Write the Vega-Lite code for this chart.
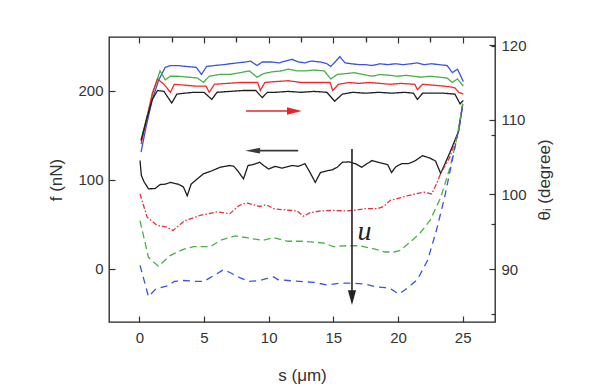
{
"$schema":"https://vega.github.io/schema/vega-lite/v6.json",
"width":386,"height":285,"autosize":"none",
"padding":{"left":109,"top":37,"right":114,"bottom":66},
"background":"white",
"config":{"view":{"stroke":"#222","strokeWidth":1.3},
"axis":{"domain":false,"grid":false,"labelFont":"Liberation Sans","labelFontSize":15,"labelColor":"#333","titleFont":"Liberation Sans","titleFontSize":17,"titleFontWeight":"normal","titleColor":"#333","tickColor":"#333","tickWidth":1.2}},
"datasets":{
"one":[{"s":0,"f":0}],
"arrows":[{"a":"red","s":8.25,"s2":11.7,"f":177,"f2":177},{"a":"black","s":8.9,"s2":12.28,"f":132.6,"f2":132.6},{"a":"u","s":16.44,"s2":16.44,"f":134.5,"f2":-30}],
"heads":[{"a":"red","s":11.99,"f":177},{"a":"black","s":8.76,"f":132.6},{"a":"u","s":16.44,"f":-32.2}],
"labels":[{"t":"u","s":17.4,"f":41.5}],
"lines":[
{"series":"blue_f","s":0.13,"f":131},{"series":"blue_f","s":0.5,"f":158},{"series":"blue_f","s":1.0,"f":190},{"series":"blue_f","s":1.5,"f":212},{"series":"blue_f","s":2.0,"f":226},{"series":"blue_f","s":2.4,"f":228},{"series":"blue_f","s":3.0,"f":228},{"series":"blue_f","s":3.6,"f":227},{"series":"blue_f","s":4.4,"f":226},{"series":"blue_f","s":4.8,"f":218},{"series":"blue_f","s":5.2,"f":227},{"series":"blue_f","s":5.8,"f":228},{"series":"blue_f","s":6.5,"f":229},{"series":"blue_f","s":7.0,"f":230},{"series":"blue_f","s":7.6,"f":231},{"series":"blue_f","s":8.2,"f":232},{"series":"blue_f","s":8.6,"f":233},{"series":"blue_f","s":9.1,"f":228},{"series":"blue_f","s":9.5,"f":232},{"series":"blue_f","s":10.2,"f":232},{"series":"blue_f","s":10.8,"f":231},{"series":"blue_f","s":11.3,"f":233},{"series":"blue_f","s":11.8,"f":235},{"series":"blue_f","s":12.3,"f":232},{"series":"blue_f","s":12.8,"f":231},{"series":"blue_f","s":13.3,"f":233},{"series":"blue_f","s":14.0,"f":232},{"series":"blue_f","s":14.5,"f":230},{"series":"blue_f","s":14.8,"f":227},{"series":"blue_f","s":15.2,"f":233},{"series":"blue_f","s":15.5,"f":238},{"series":"blue_f","s":15.9,"f":231},{"series":"blue_f","s":16.4,"f":230},{"series":"blue_f","s":17.0,"f":229},{"series":"blue_f","s":17.5,"f":229},{"series":"blue_f","s":18.0,"f":228},{"series":"blue_f","s":18.6,"f":230},{"series":"blue_f","s":19.2,"f":229},{"series":"blue_f","s":19.8,"f":230},{"series":"blue_f","s":20.4,"f":229},{"series":"blue_f","s":21.0,"f":230},{"series":"blue_f","s":21.5,"f":231},{"series":"blue_f","s":22.0,"f":229},{"series":"blue_f","s":22.6,"f":230},{"series":"blue_f","s":23.2,"f":229},{"series":"blue_f","s":23.8,"f":228},{"series":"blue_f","s":24.2,"f":220},{"series":"blue_f","s":24.6,"f":224},{"series":"blue_f","s":25.05,"f":210},
{"series":"green_f","s":0.13,"f":144},{"series":"green_f","s":0.6,"f":172},{"series":"green_f","s":1.1,"f":200},{"series":"green_f","s":1.6,"f":222},{"series":"green_f","s":2.0,"f":212},{"series":"green_f","s":2.4,"f":216},{"series":"green_f","s":3.0,"f":216},{"series":"green_f","s":3.8,"f":215},{"series":"green_f","s":4.5,"f":214},{"series":"green_f","s":4.95,"f":209},{"series":"green_f","s":5.4,"f":216},{"series":"green_f","s":6.2,"f":218},{"series":"green_f","s":7.0,"f":218},{"series":"green_f","s":7.8,"f":220},{"series":"green_f","s":8.5,"f":222},{"series":"green_f","s":9.1,"f":215},{"series":"green_f","s":9.6,"f":219},{"series":"green_f","s":10.3,"f":221},{"series":"green_f","s":11.0,"f":222},{"series":"green_f","s":11.5,"f":224},{"series":"green_f","s":12.2,"f":222},{"series":"green_f","s":12.8,"f":222},{"series":"green_f","s":13.5,"f":223},{"series":"green_f","s":14.3,"f":222},{"series":"green_f","s":14.8,"f":213},{"series":"green_f","s":15.3,"f":218},{"series":"green_f","s":16.0,"f":219},{"series":"green_f","s":16.6,"f":220},{"series":"green_f","s":17.3,"f":218},{"series":"green_f","s":18.0,"f":216},{"series":"green_f","s":18.6,"f":218},{"series":"green_f","s":19.4,"f":217},{"series":"green_f","s":20.0,"f":216},{"series":"green_f","s":20.6,"f":217},{"series":"green_f","s":21.2,"f":216},{"series":"green_f","s":21.8,"f":215},{"series":"green_f","s":22.5,"f":216},{"series":"green_f","s":23.2,"f":215},{"series":"green_f","s":23.8,"f":214},{"series":"green_f","s":24.2,"f":209},{"series":"green_f","s":24.6,"f":213},{"series":"green_f","s":25.05,"f":205},
{"series":"red_f","s":0.13,"f":140},{"series":"red_f","s":0.6,"f":170},{"series":"red_f","s":1.0,"f":197},{"series":"red_f","s":1.4,"f":213},{"series":"red_f","s":1.9,"f":207},{"series":"red_f","s":2.4,"f":198},{"series":"red_f","s":2.7,"f":207},{"series":"red_f","s":3.5,"f":206},{"series":"red_f","s":4.3,"f":205},{"series":"red_f","s":5.15,"f":205},{"series":"red_f","s":5.4,"f":198},{"series":"red_f","s":5.8,"f":207},{"series":"red_f","s":6.8,"f":208},{"series":"red_f","s":7.8,"f":209},{"series":"red_f","s":8.6,"f":209},{"series":"red_f","s":9.15,"f":209},{"series":"red_f","s":9.35,"f":200},{"series":"red_f","s":9.7,"f":209},{"series":"red_f","s":10.5,"f":210},{"series":"red_f","s":11.5,"f":211},{"series":"red_f","s":12.5,"f":209},{"series":"red_f","s":13.5,"f":209},{"series":"red_f","s":14.75,"f":209},{"series":"red_f","s":14.95,"f":200},{"series":"red_f","s":15.4,"f":207},{"series":"red_f","s":16.2,"f":209},{"series":"red_f","s":17.0,"f":208},{"series":"red_f","s":17.8,"f":209},{"series":"red_f","s":18.6,"f":208},{"series":"red_f","s":19.4,"f":207},{"series":"red_f","s":20.2,"f":208},{"series":"red_f","s":21.3,"f":207},{"series":"red_f","s":21.5,"f":201},{"series":"red_f","s":21.9,"f":207},{"series":"red_f","s":22.7,"f":206},{"series":"red_f","s":23.5,"f":205},{"series":"red_f","s":24.1,"f":204},{"series":"red_f","s":24.4,"f":203},{"series":"red_f","s":24.7,"f":198},{"series":"red_f","s":25.05,"f":196},
{"series":"black_f","s":0.13,"f":144},{"series":"black_f","s":0.6,"f":170},{"series":"black_f","s":1.0,"f":190},{"series":"black_f","s":1.4,"f":200},{"series":"black_f","s":1.9,"f":199},{"series":"black_f","s":2.5,"f":186},{"series":"black_f","s":2.9,"f":196},{"series":"black_f","s":3.5,"f":197},{"series":"black_f","s":4.2,"f":198},{"series":"black_f","s":5.0,"f":198},{"series":"black_f","s":5.6,"f":190},{"series":"black_f","s":6.0,"f":198},{"series":"black_f","s":7.0,"f":199},{"series":"black_f","s":8.0,"f":200},{"series":"black_f","s":9.0,"f":200},{"series":"black_f","s":9.5,"f":192},{"series":"black_f","s":9.9,"f":198},{"series":"black_f","s":10.5,"f":198},{"series":"black_f","s":11.5,"f":199},{"series":"black_f","s":12.5,"f":198},{"series":"black_f","s":13.5,"f":199},{"series":"black_f","s":14.5,"f":198},{"series":"black_f","s":15.1,"f":188},{"series":"black_f","s":15.7,"f":196},{"series":"black_f","s":16.5,"f":198},{"series":"black_f","s":17.5,"f":197},{"series":"black_f","s":18.5,"f":198},{"series":"black_f","s":19.5,"f":197},{"series":"black_f","s":20.5,"f":198},{"series":"black_f","s":21.2,"f":197},{"series":"black_f","s":21.5,"f":190},{"series":"black_f","s":21.9,"f":197},{"series":"black_f","s":22.7,"f":197},{"series":"black_f","s":23.5,"f":197},{"series":"black_f","s":24.4,"f":196},{"series":"black_f","s":24.8,"f":185},{"series":"black_f","s":25.05,"f":189},
{"series":"black_r","s":0.05,"f":121.5},{"series":"black_r","s":0.15,"f":105},{"series":"black_r","s":0.35,"f":98},{"series":"black_r","s":0.7,"f":89.8},{"series":"black_r","s":1.2,"f":90},{"series":"black_r","s":1.6,"f":94.6},{"series":"black_r","s":2.0,"f":95},{"series":"black_r","s":2.4,"f":97},{"series":"black_r","s":3.0,"f":95},{"series":"black_r","s":3.4,"f":92},{"series":"black_r","s":3.7,"f":82},{"series":"black_r","s":4.0,"f":95},{"series":"black_r","s":4.4,"f":100},{"series":"black_r","s":4.95,"f":106.6},{"series":"black_r","s":5.6,"f":110},{"series":"black_r","s":6.25,"f":114},{"series":"black_r","s":7.0,"f":116},{"series":"black_r","s":7.3,"f":115},{"series":"black_r","s":7.6,"f":110},{"series":"black_r","s":8.05,"f":101},{"series":"black_r","s":8.4,"f":115.9},{"series":"black_r","s":8.8,"f":117},{"series":"black_r","s":9.3,"f":119.6},{"series":"black_r","s":9.6,"f":116},{"series":"black_r","s":10.0,"f":112},{"series":"black_r","s":10.5,"f":115},{"series":"black_r","s":11.0,"f":113},{"series":"black_r","s":11.8,"f":116},{"series":"black_r","s":12.3,"f":115},{"series":"black_r","s":12.8,"f":118},{"series":"black_r","s":13.2,"f":108},{"series":"black_r","s":13.6,"f":97},{"series":"black_r","s":14.0,"f":108},{"series":"black_r","s":14.5,"f":110},{"series":"black_r","s":14.9,"f":111},{"series":"black_r","s":15.3,"f":114},{"series":"black_r","s":15.7,"f":119.6},{"series":"black_r","s":16.2,"f":120},{"series":"black_r","s":16.7,"f":118},{"series":"black_r","s":17.2,"f":114},{"series":"black_r","s":17.6,"f":118},{"series":"black_r","s":18.0,"f":121.5},{"series":"black_r","s":18.6,"f":119},{"series":"black_r","s":19.2,"f":117},{"series":"black_r","s":19.5,"f":108},{"series":"black_r","s":19.8,"f":114},{"series":"black_r","s":20.0,"f":116},{"series":"black_r","s":20.3,"f":118},{"series":"black_r","s":20.8,"f":118},{"series":"black_r","s":21.3,"f":121},{"series":"black_r","s":21.9,"f":127},{"series":"black_r","s":22.5,"f":124},{"series":"black_r","s":22.9,"f":121},{"series":"black_r","s":23.3,"f":107},{"series":"black_r","s":24.0,"f":130},{"series":"black_r","s":24.7,"f":155},{"series":"black_r","s":25.0,"f":185},
{"series":"red_r","s":0.05,"f":84},{"series":"red_r","s":0.6,"f":58},{"series":"red_r","s":1.35,"f":49},{"series":"red_r","s":2.1,"f":47},{"series":"red_r","s":2.6,"f":43},{"series":"red_r","s":3.5,"f":54},{"series":"red_r","s":4.7,"f":60},{"series":"red_r","s":6.0,"f":64},{"series":"red_r","s":7.0,"f":62},{"series":"red_r","s":7.7,"f":71},{"series":"red_r","s":8.3,"f":74},{"series":"red_r","s":9.3,"f":70},{"series":"red_r","s":9.8,"f":72},{"series":"red_r","s":10.4,"f":67.5},{"series":"red_r","s":11.1,"f":66.4},{"series":"red_r","s":12.2,"f":65},{"series":"red_r","s":12.7,"f":59},{"series":"red_r","s":13.2,"f":63},{"series":"red_r","s":14.0,"f":65},{"series":"red_r","s":15.0,"f":65.6},{"series":"red_r","s":16.0,"f":65},{"series":"red_r","s":16.8,"f":66},{"series":"red_r","s":17.5,"f":67.5},{"series":"red_r","s":18.4,"f":67.5},{"series":"red_r","s":18.9,"f":70},{"series":"red_r","s":19.4,"f":77},{"series":"red_r","s":20.0,"f":79},{"series":"red_r","s":20.7,"f":82},{"series":"red_r","s":21.3,"f":84},{"series":"red_r","s":22.0,"f":86},{"series":"red_r","s":22.6,"f":84},{"series":"red_r","s":23.0,"f":96},{"series":"red_r","s":23.3,"f":107},{"series":"red_r","s":24.0,"f":125},{"series":"red_r","s":24.6,"f":150},{"series":"red_r","s":25.0,"f":183},
{"series":"green_r","s":0.05,"f":54},{"series":"green_r","s":0.7,"f":13},{"series":"green_r","s":1.47,"f":3},{"series":"green_r","s":2.38,"f":15},{"series":"green_r","s":3.4,"f":22},{"series":"green_r","s":4.2,"f":25},{"series":"green_r","s":5.5,"f":25},{"series":"green_r","s":6.25,"f":32},{"series":"green_r","s":7.4,"f":37},{"series":"green_r","s":8.3,"f":35},{"series":"green_r","s":9.5,"f":32},{"series":"green_r","s":10.4,"f":35},{"series":"green_r","s":11.5,"f":31},{"series":"green_r","s":12.5,"f":31},{"series":"green_r","s":13.5,"f":30},{"series":"green_r","s":14.3,"f":29},{"series":"green_r","s":15.0,"f":25},{"series":"green_r","s":16.0,"f":26},{"series":"green_r","s":17.0,"f":26},{"series":"green_r","s":18.0,"f":23},{"series":"green_r","s":19.0,"f":19},{"series":"green_r","s":19.7,"f":19},{"series":"green_r","s":20.2,"f":21},{"series":"green_r","s":20.7,"f":27},{"series":"green_r","s":21.7,"f":40},{"series":"green_r","s":22.5,"f":55},{"series":"green_r","s":23.3,"f":80},{"series":"green_r","s":24.05,"f":115},{"series":"green_r","s":24.6,"f":150},{"series":"green_r","s":25.0,"f":185},
{"series":"blue_r","s":0.05,"f":4},{"series":"blue_r","s":0.35,"f":-12},{"series":"blue_r","s":0.7,"f":-31},{"series":"blue_r","s":1.3,"f":-22},{"series":"blue_r","s":2.2,"f":-19},{"series":"blue_r","s":2.7,"f":-14},{"series":"blue_r","s":3.4,"f":-13},{"series":"blue_r","s":4.4,"f":-14},{"series":"blue_r","s":5.0,"f":-14},{"series":"blue_r","s":5.8,"f":-7},{"series":"blue_r","s":6.5,"f":-1},{"series":"blue_r","s":7.0,"f":-4},{"series":"blue_r","s":7.8,"f":-10},{"series":"blue_r","s":8.5,"f":-14},{"series":"blue_r","s":9.3,"f":-13},{"series":"blue_r","s":9.8,"f":-11},{"series":"blue_r","s":10.4,"f":-9},{"series":"blue_r","s":10.7,"f":-12},{"series":"blue_r","s":11.5,"f":-13},{"series":"blue_r","s":12.8,"f":-14.5},{"series":"blue_r","s":13.5,"f":-15},{"series":"blue_r","s":14.5,"f":-18},{"series":"blue_r","s":15.5,"f":-16},{"series":"blue_r","s":16.5,"f":-16},{"series":"blue_r","s":17.5,"f":-17},{"series":"blue_r","s":18.3,"f":-20},{"series":"blue_r","s":19.0,"f":-21},{"series":"blue_r","s":19.5,"f":-23},{"series":"blue_r","s":20.05,"f":-28},{"series":"blue_r","s":20.5,"f":-24},{"series":"blue_r","s":21.0,"f":-18},{"series":"blue_r","s":21.5,"f":-12},{"series":"blue_r","s":22.3,"f":10},{"series":"blue_r","s":23.0,"f":45},{"series":"blue_r","s":23.6,"f":80},{"series":"blue_r","s":24.1,"f":115},{"series":"blue_r","s":24.6,"f":150},{"series":"blue_r","s":25.0,"f":183}
]},
"resolve":{"scale":{"y":"independent"},"axis":{"x":"independent","y":"independent"}},
"layer":[
{"resolve":{"axis":{"x":"independent","y":"independent"},"scale":{"color":"independent","shape":"independent"}},
"layer":[
{"data":{"name":"lines"},"mark":{"type":"line","strokeWidth":1.3},
"encoding":{
"x":{"field":"s","type":"quantitative","scale":{"domain":[-2.35,27.5],"nice":false,"zero":false},"axis":{"values":[0,5,10,15,20,25],"tickSize":-6,"labelPadding":14,"title":"s (μm)","titlePadding":22}},
"y":{"field":"f","type":"quantitative","scale":{"domain":[-59.5,260],"nice":false,"zero":false},"axis":{"values":[0,100,200],"tickSize":-6,"labelPadding":12,"title":"f (nN)","titlePadding":12}},
"detail":{"field":"series"},
"color":{"field":"series","type":"nominal","legend":null,"scale":{"domain":["blue_f","green_f","red_f","black_f","black_r","red_r","green_r","blue_r"],"range":["#3a52e0","#48b048","#ee2a2a","#1e1e1e","#1e1e1e","#e8303a","#4cb04a","#3a52e0"]}},
"strokeDash":{"field":"series","type":"nominal","legend":null,"scale":{"domain":["blue_f","green_f","red_f","black_f","black_r","red_r","green_r","blue_r"],"range":[[1,0],[1,0],[1,0],[1,0],[1,0],[5,2,1.5,2],[7,4],[7,5]]}}
}},
{"data":{"name":"one"},"mark":{"type":"point","opacity":0},
"encoding":{
"x":{"field":"s","type":"quantitative","scale":{"domain":[-2.35,27.5],"nice":false,"zero":false},"axis":{"values":[2.5,7.5,12.5,17.5,22.5],"tickSize":-4,"labels":false,"title":null}},
"y":{"field":"f","type":"quantitative","scale":{"domain":[-59.5,260],"nice":false,"zero":false},"axis":{"values":[-50,50,150,250],"tickSize":-4,"labels":false,"title":null}}}},
{"data":{"name":"one"},"mark":{"type":"point","opacity":0},
"encoding":{
"x":{"field":"s","type":"quantitative","scale":{"domain":[-2.35,27.5],"nice":false,"zero":false},"axis":{"orient":"top","values":[0,5,10,15,20,25],"tickSize":-6,"labels":false,"title":null}},
"y":{"field":"f","type":"quantitative","scale":{"domain":[-59.5,260],"nice":false,"zero":false},"axis":null}}},
{"data":{"name":"one"},"mark":{"type":"point","opacity":0},
"encoding":{
"x":{"field":"s","type":"quantitative","scale":{"domain":[-2.35,27.5],"nice":false,"zero":false},"axis":{"orient":"top","values":[2.5,7.5,12.5,17.5,22.5],"tickSize":-5,"labels":false,"title":null}},
"y":{"field":"f","type":"quantitative","scale":{"domain":[-59.5,260],"nice":false,"zero":false},"axis":null}}},
{"data":{"name":"arrows"},"mark":{"type":"rule","strokeWidth":1.6},
"encoding":{
"x":{"field":"s","type":"quantitative","axis":null},"x2":{"field":"s2"},
"y":{"field":"f","type":"quantitative","axis":null},"y2":{"field":"f2"},
"color":{"field":"a","type":"nominal","legend":null,"scale":{"domain":["red","black","u"],"range":["#e8252a","#3a3a3a","#222222"]}}}},
{"data":{"name":"heads"},"mark":{"type":"point","filled":true,"opacity":1,"size":220},
"encoding":{
"x":{"field":"s","type":"quantitative","axis":null},
"y":{"field":"f","type":"quantitative","axis":null},
"shape":{"field":"a","type":"nominal","legend":null,"scale":{"domain":["red","black","u"],"range":["M-1,-0.5L1,0L-1,0.5Z","M1,-0.4L-1,0L1,0.4Z","M-0.55,-1L0,1L0.55,-1Z"]}},
"color":{"field":"a","type":"nominal","legend":null,"scale":{"domain":["red","black","u"],"range":["#e8252a","#3a3a3a","#222222"]}}}},
{"data":{"name":"labels"},"mark":{"type":"text","font":"Liberation Serif","fontStyle":"italic","fontSize":28,"color":"#222","baseline":"middle","align":"center"},
"encoding":{
"x":{"field":"s","type":"quantitative","axis":null},
"y":{"field":"f","type":"quantitative","axis":null},
"text":{"field":"t"}}}
]},
{"data":{"name":"one"},"mark":{"type":"point","opacity":0},
"encoding":{
"x":{"field":"s","type":"quantitative","scale":{"domain":[-2.35,27.5],"nice":false,"zero":false},"axis":null},
"y":{"field":"f","type":"quantitative","scale":{"domain":[82.9,121.1],"nice":false,"zero":false},"axis":{"orient":"right","values":[90,100,110,120],"tickSize":-6,"labelPadding":12,"title":"θᵢ (degree)","titleAngle":-90,"titleBaseline":"top","titlePadding":10}}}}
]
}
